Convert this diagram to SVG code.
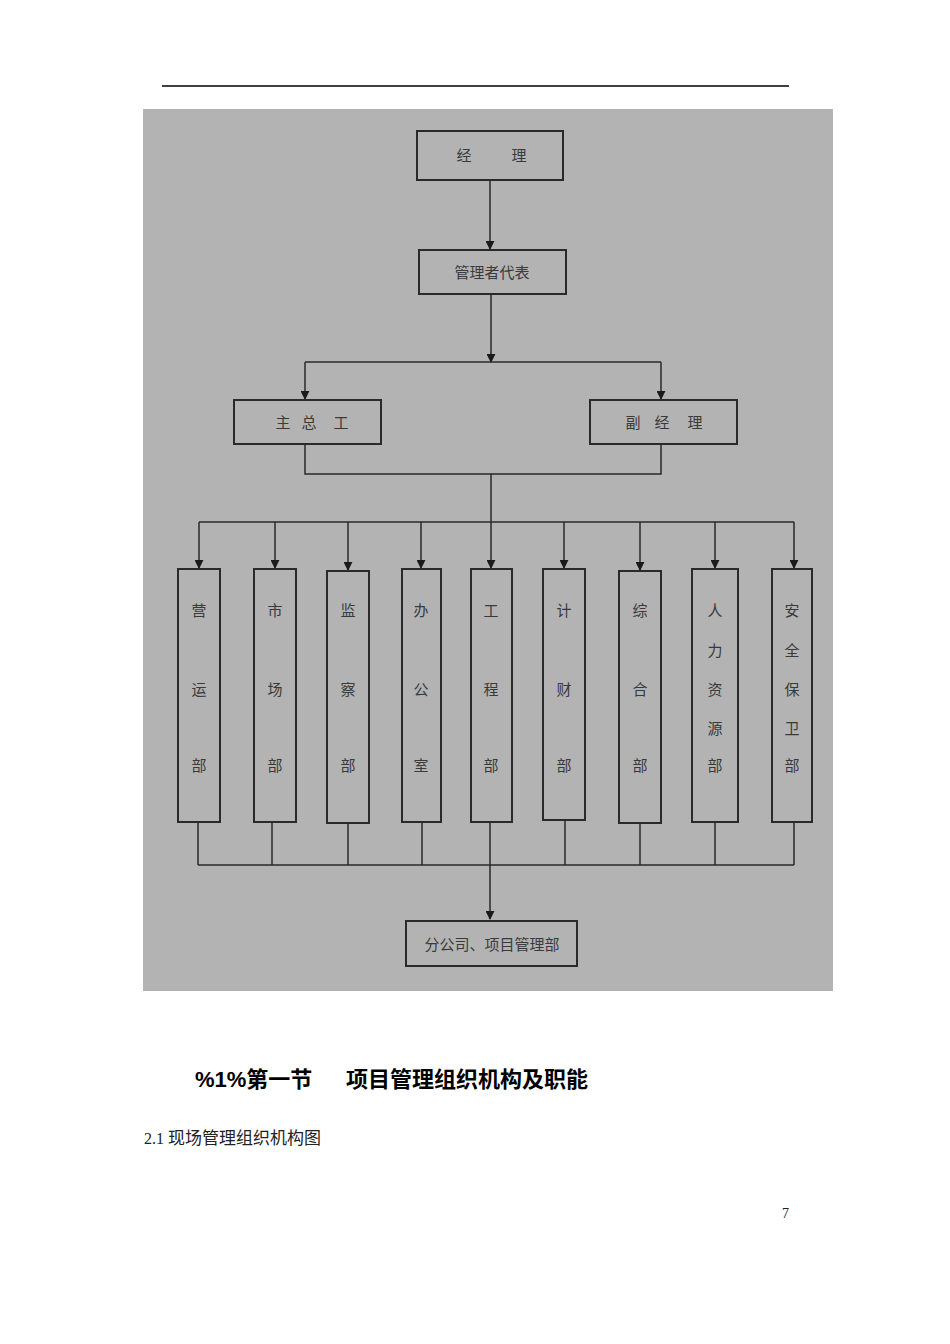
<svg xmlns="http://www.w3.org/2000/svg" width="950" height="1344" viewBox="0 0 950 1344">
<style>
.box{fill:none;stroke:#2a2a2a;stroke-width:2}
.ln{fill:none;stroke:#2a2a2a;stroke-width:1.5}
.t{font-family:"Noto Sans CJK SC","Noto Sans CJK JP",serif;font-size:15px;fill:#3a3a3a;text-anchor:middle}
.h{font-family:"Liberation Sans","Noto Sans CJK SC",sans-serif;font-size:22px;font-weight:bold;fill:#000}
.p{font-family:"Liberation Serif","Noto Sans CJK SC",serif;fill:#222}
</style>
<defs>
<marker id="ar" viewBox="0 0 10 10" refX="9" refY="5" markerWidth="9" markerHeight="9" markerUnits="userSpaceOnUse" orient="auto">
<path d="M0,0 L10,5 L0,10 z" fill="#1a1a1a"/>
</marker>
</defs>
<rect width="950" height="1344" fill="#fff"/>
<line x1="162" y1="86" x2="789" y2="86" stroke="#000" stroke-width="1.5"/>
<rect x="143" y="109" width="690" height="882" fill="#b3b3b3"/>

<g id="connectors">
<line class="ln" x1="490" y1="180" x2="490" y2="249" marker-end="url(#ar)"/>
<line class="ln" x1="491" y1="294" x2="491" y2="362" marker-end="url(#ar)"/>
<line class="ln" x1="305" y1="362" x2="661" y2="362"/>
<line class="ln" x1="305" y1="362" x2="305" y2="399" marker-end="url(#ar)"/>
<line class="ln" x1="661" y1="362" x2="661" y2="399" marker-end="url(#ar)"/>
<polyline class="ln" points="305,444 305,474 661,474 661,444"/>
<line class="ln" x1="491" y1="474" x2="491" y2="522"/>
<line class="ln" x1="199" y1="522" x2="794" y2="522"/>
<line class="ln" x1="199" y1="522" x2="199" y2="568" marker-end="url(#ar)"/>
<line class="ln" x1="275" y1="522" x2="275" y2="568" marker-end="url(#ar)"/>
<line class="ln" x1="348" y1="522" x2="348" y2="570" marker-end="url(#ar)"/>
<line class="ln" x1="421" y1="522" x2="421" y2="568" marker-end="url(#ar)"/>
<line class="ln" x1="491" y1="522" x2="491" y2="568" marker-end="url(#ar)"/>
<line class="ln" x1="564" y1="522" x2="564" y2="568" marker-end="url(#ar)"/>
<line class="ln" x1="640" y1="522" x2="640" y2="570" marker-end="url(#ar)"/>
<line class="ln" x1="715" y1="522" x2="715" y2="568" marker-end="url(#ar)"/>
<line class="ln" x1="794" y1="522" x2="794" y2="568" marker-end="url(#ar)"/>
<line class="ln" x1="198" y1="822" x2="198" y2="865"/>
<line class="ln" x1="272" y1="822" x2="272" y2="865"/>
<line class="ln" x1="348" y1="823" x2="348" y2="865"/>
<line class="ln" x1="422" y1="822" x2="422" y2="865"/>
<line class="ln" x1="490" y1="822" x2="490" y2="865"/>
<line class="ln" x1="565" y1="820" x2="565" y2="865"/>
<line class="ln" x1="640" y1="823" x2="640" y2="865"/>
<line class="ln" x1="715" y1="822" x2="715" y2="865"/>
<line class="ln" x1="794" y1="822" x2="794" y2="865"/>
<line class="ln" x1="198" y1="865" x2="794" y2="865"/>
<line class="ln" x1="490" y1="865" x2="490" y2="919" marker-end="url(#ar)"/>
</g>

<g id="n-jingli"><rect class="box" x="417" y="131" width="146" height="49"/>
<text class="t" x="464" y="161">经</text><text class="t" x="519" y="161">理</text></g>
<g id="n-daibiao"><rect class="box" x="419" y="250" width="147" height="44"/>
<text class="t" x="492" y="278">管理者代表</text></g>
<g id="n-zonggong"><rect class="box" x="234" y="400" width="147" height="44"/>
<text class="t" x="283" y="428">主</text><text class="t" x="309" y="428">总</text><text class="t" x="341" y="428">工</text></g>
<g id="n-fujingli"><rect class="box" x="590" y="400" width="147" height="44"/>
<text class="t" x="633" y="428">副</text><text class="t" x="662" y="428">经</text><text class="t" x="695" y="428">理</text></g>

<g id="n-c1"><rect class="box" x="178" y="569" width="42" height="253"/>
<text class="t" x="199" y="616">营</text><text class="t" x="199" y="695">运</text><text class="t" x="199" y="771">部</text></g>
<g id="n-c2"><rect class="box" x="254" y="569" width="42" height="253"/>
<text class="t" x="275" y="616">市</text><text class="t" x="275" y="695">场</text><text class="t" x="275" y="771">部</text></g>
<g id="n-c3"><rect class="box" x="327" y="571" width="42" height="252"/>
<text class="t" x="348" y="616">监</text><text class="t" x="348" y="695">察</text><text class="t" x="348" y="771">部</text></g>
<g id="n-c4"><rect class="box" x="402" y="569" width="39" height="253"/>
<text class="t" x="421" y="616">办</text><text class="t" x="421" y="695">公</text><text class="t" x="421" y="771">室</text></g>
<g id="n-c5"><rect class="box" x="471" y="569" width="41" height="253"/>
<text class="t" x="491" y="616">工</text><text class="t" x="491" y="695">程</text><text class="t" x="491" y="771">部</text></g>
<g id="n-c6"><rect class="box" x="543" y="569" width="42" height="251"/>
<text class="t" x="564" y="616">计</text><text class="t" x="564" y="695">财</text><text class="t" x="564" y="771">部</text></g>
<g id="n-c7"><rect class="box" x="619" y="571" width="42" height="252"/>
<text class="t" x="640" y="616">综</text><text class="t" x="640" y="695">合</text><text class="t" x="640" y="771">部</text></g>
<g id="n-c8"><rect class="box" x="692" y="569" width="46" height="253"/>
<text class="t" x="715" y="616">人</text><text class="t" x="715" y="656">力</text><text class="t" x="715" y="695">资</text><text class="t" x="715" y="734">源</text><text class="t" x="715" y="771">部</text></g>
<g id="n-c9"><rect class="box" x="772" y="569" width="40" height="253"/>
<text class="t" x="792" y="616">安</text><text class="t" x="792" y="656">全</text><text class="t" x="792" y="695">保</text><text class="t" x="792" y="734">卫</text><text class="t" x="792" y="771">部</text></g>

<g id="n-bottom"><rect class="box" x="406" y="921" width="171" height="45"/>
<text class="t" x="492" y="950">分公司、项目管理部</text></g>

<text class="h" x="195" y="1087">%1%第一节</text>
<text class="h" x="346" y="1087">项目管理组织机构及职能</text>
<text class="p" x="144" y="1144" font-size="16">2.1 <tspan font-family="Noto Sans CJK SC,serif" font-size="17">现场管理组织机构图</tspan></text>
<text class="p" x="782" y="1218" font-size="14">7</text>
</svg>
